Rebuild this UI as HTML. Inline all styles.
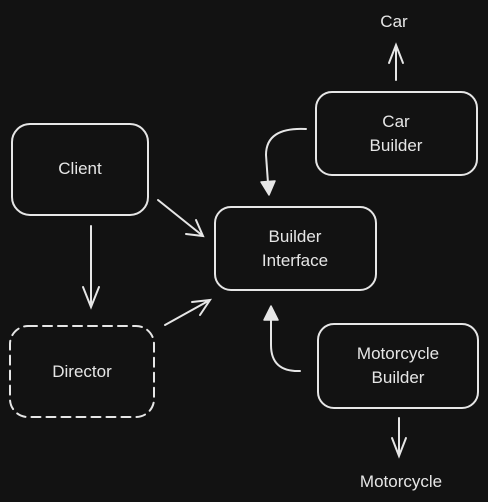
<!DOCTYPE html>
<html><head><style>html,body{margin:0;padding:0;background:#121212;}svg{display:block}</style></head><body>
<svg width="488" height="502" viewBox="0 0 488 502" xmlns="http://www.w3.org/2000/svg">
<rect width="488" height="502" fill="#121212"/>
<g fill="none" stroke="#e6e6e6" stroke-width="2" stroke-linecap="round">
<rect x="12" y="124" width="136" height="91" rx="18"/>
<rect x="10" y="326" width="144" height="91" rx="18" stroke-dasharray="9,6"/>
<rect x="215" y="207" width="161" height="83" rx="16"/>
<rect x="316" y="92" width="161" height="83" rx="16"/>
<rect x="318" y="324" width="160" height="84" rx="16"/>
<path d="M91 226 L91 307 M83 287 L91 307 L99 287"/>
<path d="M158 200 L203 236 M186 234 L203 236 L196 220"/>
<path d="M165 325 L210 300 M192 302 L210 300 L200 315"/>
<path d="M396 80 L396 45 M389 63 L396 45 L403 63"/>
<path d="M399 418 L399 456 M392 438 L399 456 L406 438"/>
<path d="M306 129 Q266 127 266 155 L268 183"/>
<path d="M300 371 Q271 372 271 345 L271 320"/>
</g>
<g fill="#e6e6e6" stroke="#e6e6e6" stroke-width="1.5" stroke-linejoin="round">
<path d="M261 182 L275 181 L269 195 Z"/>
<path d="M264 320 L278 320 L271 306 Z"/>
</g>
<g fill="#e6e6e6" font-family="'Liberation Sans', sans-serif" font-size="17" text-anchor="middle">
<text x="80" y="174">Client</text>
<text x="82" y="377">Director</text>
<text x="295" y="242">Builder</text>
<text x="295" y="266">Interface</text>
<text x="396" y="127">Car</text>
<text x="396" y="151">Builder</text>
<text x="398" y="359">Motorcycle</text>
<text x="398" y="383">Builder</text>
<text x="394" y="27">Car</text>
<text x="401" y="487">Motorcycle</text>
</g>
</svg>
</body></html>
